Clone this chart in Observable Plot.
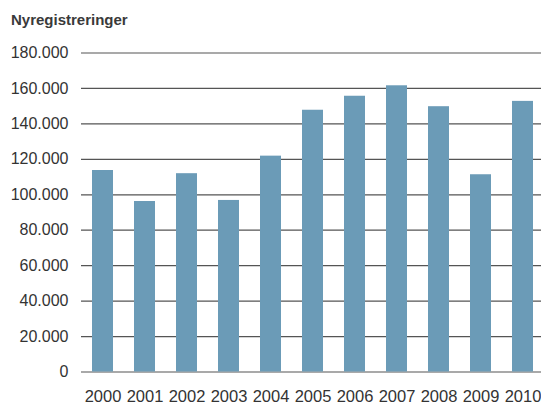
<!DOCTYPE html>
<html>
<head>
<meta charset="utf-8">
<script src="https://cdn.jsdelivr.net/npm/d3@7"></script>
<script src="https://cdn.jsdelivr.net/npm/@observablehq/plot@0.6"></script>
<style>
  html, body { margin: 0; padding: 0; background: #fff; }
  #wrap { width: 541px; height: 405px; overflow: hidden; }
  #title {
    height: 40px; box-sizing: border-box;
    padding: 12px 0 0 11px;
    font: bold 15px/15px "Liberation Sans", Arial, sans-serif;
    color: #3a3a3a;
  }
  svg { display: block; }
</style>
</head>
<body>
<div id="wrap">
  <div id="title">Nyregistreringer</div>
  <div id="chart"></div>
</div>
<script>
// Årlige nyregistreringer 2000–2010
const years = ["2000", "2001", "2002", "2003", "2004", "2005", "2006", "2007", "2008", "2009", "2010"];
const registrations = [113700, 96200, 111900, 96800, 121800, 147700, 155600, 161500, 149700, 111300, 152700];
const yTicks = [0, 20000, 40000, 60000, 80000, 100000, 120000, 140000, 160000, 180000];

const data = years.map((year, i) => ({year, value: registrations[i]}));
const fmt = d => d3.format(",")(d).replace(/,/g, ".");

const chart = Plot.plot({
  width: 541,
  height: 365,
  marginTop: 12.5,
  marginBottom: 33.5,
  marginLeft: 81,
  marginRight: 0,
  style: {fontFamily: '"Liberation Sans", Arial, sans-serif', color: "#333", background: "#fff"},
  x: {domain: years, range: [81.2, 544.3], paddingInner: 0.5, paddingOuter: 0.25, label: null},
  y: {domain: [0, 180000], label: null},
  marks: [
    Plot.ruleY(yTicks, {stroke: "#555", strokeWidth: 1.2}),
    Plot.barY(data, {x: "year", y: "value", fill: "#6b9bb7"}),
    Plot.axisY(yTicks, {tickSize: 0, tickPadding: 13, tickFormat: fmt, fontSize: 16, label: null}),
    Plot.axisX({tickSize: 0, tickPadding: 18, fontSize: 16.5, label: null})
  ]
});
document.getElementById("chart").appendChild(chart);
</script>
</body>
</html>
